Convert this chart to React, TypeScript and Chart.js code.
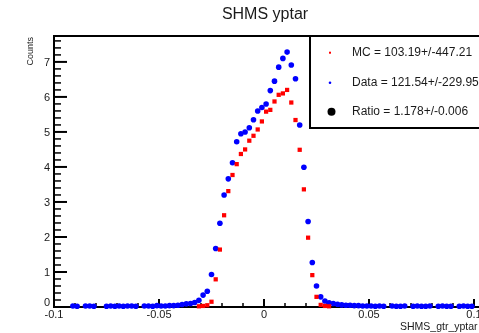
import React, { useEffect, useRef } from "react";
import { Chart, registerables } from "chart.js";

Chart.register(...registerables);

// Histogram binning (100 bins from -0.1 to 0.1)
const BIN_LOW = -0.1;
const BIN_WIDTH = 0.002;

// MC (red) bin contents
const MC_VALUES: (number | null)[] = [
  null, null, null, null, null, null, null, null, null, null,
  null, null, null, null, null, null, null, null, null, null,
  null, null, null, null, null, null, null, null, null, null,
  null, null, null, null, 0.02, 0.03, 0.05, 0.15, 0.79, 1.64,
  2.62, 3.31, 3.77, 4.08, 4.37, 4.5, 4.75, 4.89, 5.07, 5.3,
  5.58, 5.63, 5.87, 6.06, 6.1, 6.2, 5.84, 5.34, 4.49, 3.36,
  1.98, 0.91, 0.29, 0.06, 0.03, 0.02, null, null, null, null,
  null, null, null, null, null, null, null, null, null, null,
  null, null, null, null, null, null, null, null, null, null,
  null, null, null, null, null, null, null, null, null, null,
];

// Data (blue) bin contents
const DATA_VALUES: (number | null)[] = [
  null, null, null, null, 0.03, 0.02, null, 0.03, 0.03, 0.02,
  null, null, 0.02, 0.03, 0.02, 0.03, 0.02, 0.03, 0.03, 0.02,
  null, 0.03, 0.03, 0.02, 0.04, 0.03, 0.03, 0.04, 0.04, 0.05,
  0.07, 0.09, 0.1, 0.13, 0.19, 0.34, 0.45, 0.93, 1.67, 2.39,
  3.2, 3.66, 4.12, 4.72, 4.95, 5.0, 5.12, 5.35, 5.6, 5.7,
  5.8, 6.18, 6.45, 6.85, 7.1, 7.28, 6.91, 6.52, 5.2, 3.99,
  2.44, 1.27, 0.6, 0.29, 0.17, 0.12, 0.1, 0.08, 0.06, 0.05,
  0.05, 0.04, 0.04, 0.03, 0.03, 0.03, 0.02, 0.03, 0.02, null,
  0.03, 0.02, 0.02, 0.03, null, 0.02, 0.03, 0.02, 0.02, 0.03,
  null, 0.02, 0.03, 0.02, 0.02, null, 0.02, 0.03, 0.02, 0.02,
];

const X_MIN = -0.1;
const X_MAX = 0.1;
const Y_MIN = 0;
const Y_MAX = 7.74;

const X_TICK_VALUES = [-0.1, -0.05, 0, 0.05, 0.1];
const X_TICK_LABELS = ["-0.1", "-0.05", "0", "0.05", "0.1"];
const Y_TICK_VALUES = [0, 1, 2, 3, 4, 5, 6, 7];
const Y_TICK_LABELS = ["0", "1", "2", "3", "4", "5", "6", "7"];

const TITLE = "SHMS yptar";
const X_TITLE = "SHMS_gtr_yptar";
const Y_TITLE = "Counts";
const LEGEND_LABELS = [
  "MC = 103.19+/-447.21",
  "Data = 121.54+/-229.95",
  "Ratio = 1.178+/-0.006",
];

const FONT = '"Liberation Sans", Arial, Helvetica, sans-serif';
const TEXT_COLOR = "#1a1a1a";

function toPoints(values: (number | null)[]) {
  const pts: { x: number; y: number }[] = [];
  values.forEach((v, i) => {
    if (v !== null) pts.push({ x: BIN_LOW + BIN_WIDTH * (i + 0.5), y: v });
  });
  return pts;
}

const rootPlugin = {
  id: "rootStyle",
  beforeDatasetsDraw(chart: any) {
    const { ctx } = chart;
    const { left, top, bottom } = chart.chartArea;
    const xs = chart.scales.x;
    const ys = chart.scales.y;
    ctx.save();
    ctx.strokeStyle = "#000";

    // x ticks (minor every 0.01, major every 0.05), pointing inward
    for (let i = 0; i <= 20; i++) {
      const v = X_MIN + i * 0.01;
      const px = xs.getPixelForValue(v);
      const major = i % 5 === 0;
      ctx.lineWidth = major ? 2 : 1.5;
      ctx.beginPath();
      ctx.moveTo(px, bottom);
      ctx.lineTo(px, bottom - (major ? 8 : 4));
      ctx.stroke();
    }
    // y ticks (minor every 0.2, major every 1)
    for (let i = 0; i <= 38; i++) {
      const v = i * 0.2;
      if (v > Y_MAX) break;
      const py = ys.getPixelForValue(v);
      const major = i % 5 === 0;
      ctx.lineWidth = major ? 2 : 1.5;
      ctx.beginPath();
      ctx.moveTo(left, py);
      ctx.lineTo(left + (major ? 13 : 7), py);
      ctx.stroke();
    }

    // frame lines
    ctx.lineWidth = 2;
    ctx.beginPath();
    ctx.moveTo(left - 1, top);
    ctx.lineTo(chart.width, top);
    ctx.moveTo(left, top);
    ctx.lineTo(left, bottom + 1);
    ctx.moveTo(left - 1, bottom);
    ctx.lineTo(chart.width, bottom);
    ctx.stroke();

    // tick labels
    ctx.fillStyle = TEXT_COLOR;
    ctx.font = `11px ${FONT}`;
    ctx.textAlign = "center";
    ctx.textBaseline = "middle";
    X_TICK_VALUES.forEach((v, i) => {
      ctx.fillText(X_TICK_LABELS[i], xs.getPixelForValue(v), bottom + 7.5);
    });
    ctx.textAlign = "right";
    Y_TICK_VALUES.forEach((v, i) => {
      const off = v === 0 ? -4 : 1;
      ctx.fillText(Y_TICK_LABELS[i], left - 4, ys.getPixelForValue(v) + off);
    });

    // titles
    ctx.font = `16px ${FONT}`;
    ctx.textAlign = "center";
    ctx.textBaseline = "alphabetic";
    ctx.fillText(TITLE, 265, 19);

    ctx.font = `10.5px ${FONT}`;
    ctx.textAlign = "left";
    ctx.fillText(X_TITLE, 400, 330);

    ctx.save();
    ctx.translate(33, top + 1);
    ctx.rotate(-Math.PI / 2);
    ctx.font = `9px ${FONT}`;
    ctx.textAlign = "right";
    ctx.textBaseline = "alphabetic";
    ctx.fillText(Y_TITLE, 0, 0);
    ctx.restore();

    ctx.restore();
  },
  afterDraw(chart: any) {
    const { ctx } = chart;
    ctx.save();
    // legend box
    ctx.fillStyle = "#fff";
    ctx.strokeStyle = "#000";
    ctx.lineWidth = 2;
    ctx.fillRect(310, 36, 200, 92);
    ctx.strokeRect(310, 36, 200, 92);

    const rows = [52.7, 82.7, 111.7];
    // markers
    ctx.fillStyle = "#ff0000";
    ctx.fillRect(329, rows[0] - 1, 2, 2);
    ctx.fillStyle = "#0000ff";
    ctx.beginPath();
    ctx.arc(330, rows[1], 1.3, 0, Math.PI * 2);
    ctx.fill();
    ctx.fillStyle = "#000";
    ctx.beginPath();
    ctx.arc(331.5, rows[2], 4, 0, Math.PI * 2);
    ctx.fill();

    ctx.fillStyle = TEXT_COLOR;
    ctx.font = `12px ${FONT}`;
    ctx.textAlign = "left";
    ctx.textBaseline = "middle";
    LEGEND_LABELS.forEach((t, i) => ctx.fillText(t, 352, rows[i]));
    ctx.restore();
  },
};

export default function App() {
  const ref = useRef<HTMLCanvasElement | null>(null);

  useEffect(() => {
    document.body.style.margin = "0";
    const canvas = ref.current;
    if (!canvas) return;
    const chart = new Chart(canvas, {
      type: "scatter",
      data: {
        datasets: [
          {
            label: "MC",
            data: toPoints(MC_VALUES),
            pointStyle: "rect",
            pointRadius: 3,
            backgroundColor: "#ff0000",
            borderWidth: 0,
            clip: false,
          } as any,
          {
            label: "Data",
            data: toPoints(DATA_VALUES),
            pointStyle: "circle",
            pointRadius: 2.8,
            backgroundColor: "#0000ff",
            borderWidth: 0,
            clip: false,
          } as any,
        ],
      },
      options: {
        responsive: false,
        animation: false,
        events: [],
        layout: {
          autoPadding: false,
          padding: { left: 54, right: 5, top: 36, bottom: 26 },
        },
        plugins: {
          legend: { display: false },
          tooltip: { enabled: false },
          title: { display: false },
        },
        scales: {
          x: { type: "linear", min: X_MIN, max: X_MAX, display: false },
          y: { type: "linear", min: Y_MIN, max: Y_MAX, display: false },
        },
      } as any,
      plugins: [rootPlugin],
    });
    return () => chart.destroy();
  }, []);

  return (
    <div style={{ width: 479, height: 333, background: "#fff" }}>
      <canvas ref={ref} width={479} height={333} style={{ display: "block" }} />
    </div>
  );
}
